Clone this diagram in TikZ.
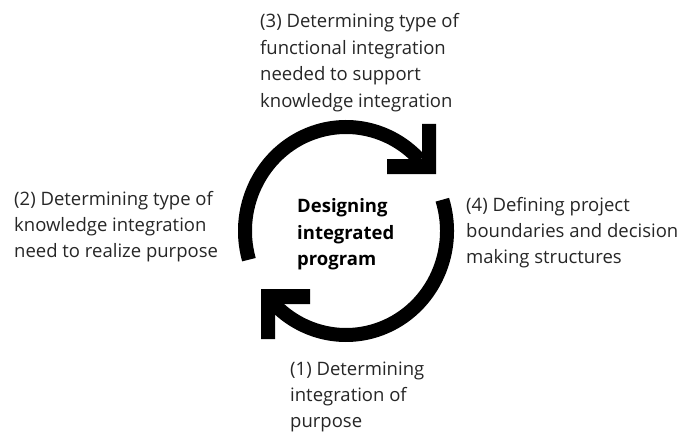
\documentclass[tikz,border=0pt]{standalone}
\usepackage{fontspec}
\setmainfont{Open Sans}
\begin{document}
\begin{tikzpicture}[x=1pt,y=1pt,
  lbl/.style={anchor=base west,inner sep=0pt,align=left,font=\fontsize{18.5}{26.4}\selectfont,text=black!85},
  ctr/.style={anchor=base west,inner sep=0pt,align=left,font=\fontsize{18.5}{26.4}\selectfont\bfseries},
  ring/.style={line width=14pt,line cap=butt,black},
  chev/.style={fill=black,draw=none}]
\useasboundingbox (0,0) rectangle (680,432);
\coordinate (c) at (346,201);
% upper-left arc, ending in the top-right arrowhead
\draw[ring] (c) ++(196:101 and 104) arc[start angle=196,end angle=43,x radius=101,y radius=104];
\fill[chev] (436,258) -- (436,308) -- (422,308) -- (422,273) -- (387,273) -- (387,258) -- cycle;
% lower-right arc, ending in the bottom-left arrowhead
\draw[ring] (c) ++(17.5:101 and 104) arc[start angle=17.5,end angle=-135,x radius=101,y radius=104];
\fill[chev] (261,143) -- (261,93) -- (275,93) -- (275,128) -- (310,128) -- (310,143) -- cycle;
% labels (anchor = baseline of the last line)
\node[ctr] (center) at (297,166.5) {Designing\\integrated\\program};
\node[lbl] (s3) at (260,324.8) {(3) Determining type of\\functional integration\\needed to support\\knowledge integration};
\node[lbl] (s2) at (14,174.2) {(2) Determining type of\\knowledge integration\\need to realize purpose};
\node[lbl] (s4) at (466,168.2) {(4) Defining project\\boundaries and decision\\making structures};
\node[lbl] (s1) at (290,4.2) {(1) Determining\\integration of\\purpose};
\end{tikzpicture}
\end{document}
